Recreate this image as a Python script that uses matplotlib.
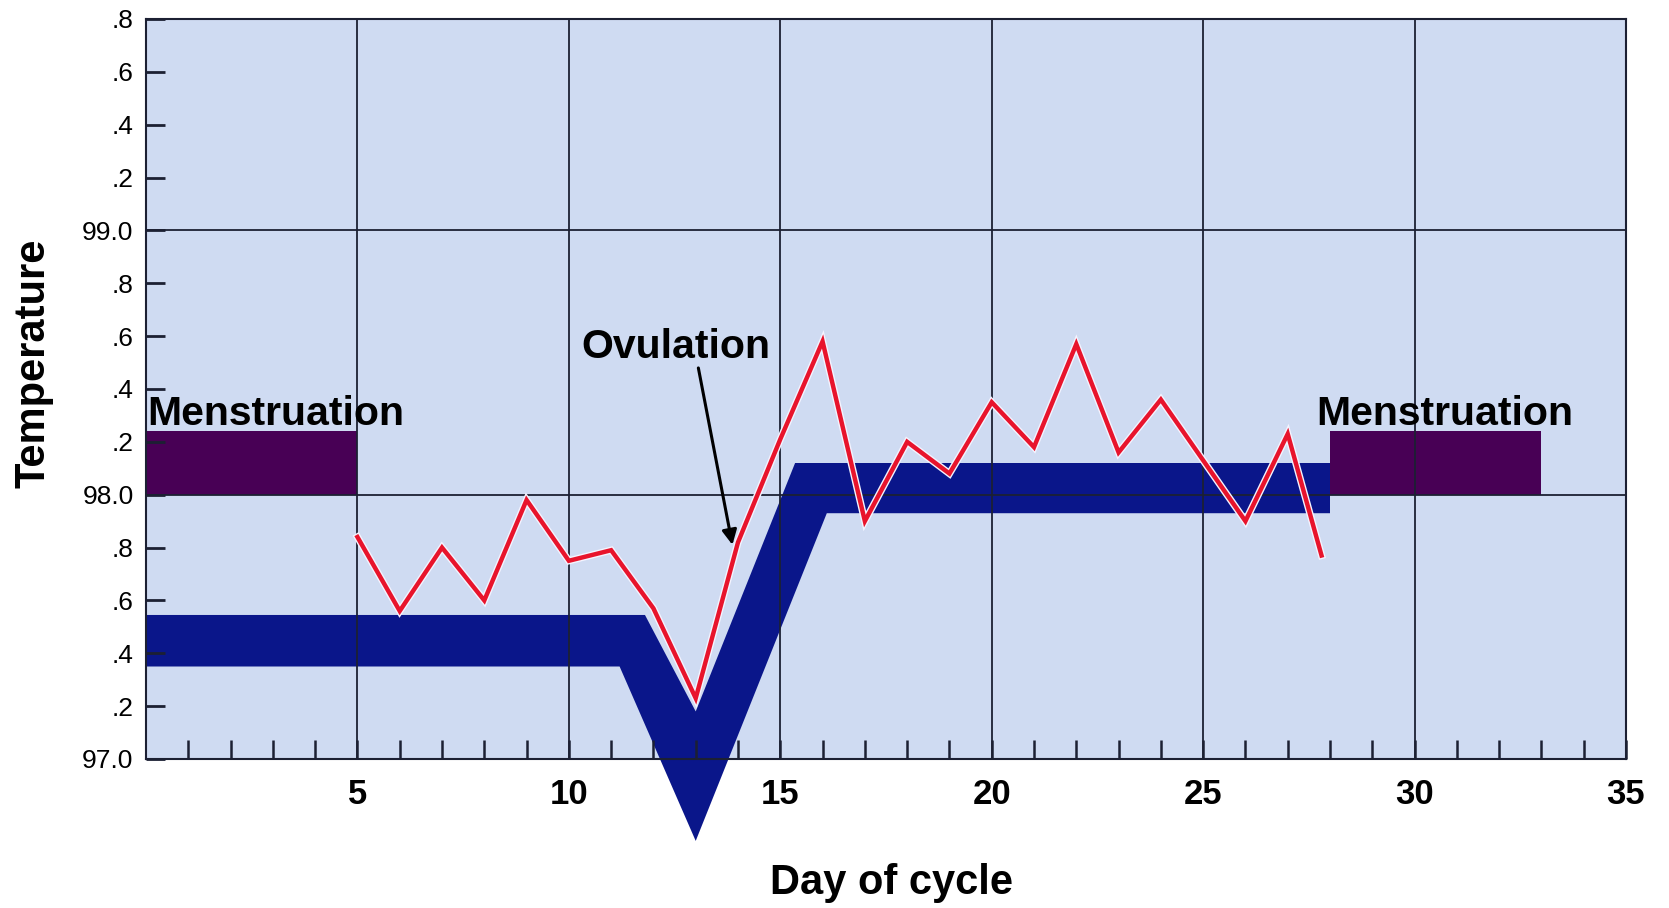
import matplotlib
matplotlib.use("Agg")
import matplotlib.pyplot as plt
import matplotlib.patheffects as pe

plt.rcParams['font.family'] = ['Liberation Sans', 'DejaVu Sans']

# basal body temperature readings (day, deg F)
days = [5, 6, 7, 8, 9, 10, 11, 12, 13, 14, 15, 16, 17, 18, 19, 20,
        21, 22, 23, 24, 25, 26, 27, 27.8]
temps = [97.84, 97.56, 97.80, 97.60, 97.98, 97.75, 97.79, 97.57, 97.23,
         97.82, 98.21, 98.58, 97.90, 98.20, 98.08, 98.35, 98.18, 98.57,
         98.16, 98.36, 98.13, 97.90, 98.23, 97.77]

# typical pattern band (outline of the thick blue trace)
band_x = [0, 11.2, 13.0, 16.1, 28.0, 28.0, 15.35, 13.0, 11.8, 0]
band_y = [97.35, 97.35, 96.69, 97.93, 97.93, 98.12, 98.12, 97.18, 97.545, 97.545]

# menstruation periods: (start day, end day), bar height range
mens_periods = [(0, 5), (28, 33)]
mens_low, mens_high = 98.0, 98.24

ytick_vals = [97.0 + 0.2 * i for i in range(15)]
ytick_text = ['97.0', '.2', '.4', '.6', '.8', '98.0', '.2', '.4', '.6', '.8',
              '99.0', '.2', '.4', '.6', '.8']
xtick_vals = [5, 10, 15, 20, 25, 30, 35]

bg = '#cfdbf2'
navy = '#0a168a'
purple = '#480055'
red = '#e8142c'
grid_c = '#1c2033'

fig = plt.figure(figsize=(16.69, 9.08), dpi=100)
ax = fig.add_axes([146 / 1669, 1 - 759 / 908, 1480 / 1669, 740 / 908])
ax.set_facecolor(bg)
ax.set_xlim(0, 35)
ax.set_ylim(97.0, 99.8)

# menstruation bars
for s, e in mens_periods:
    ax.fill_between([s, e], mens_low, mens_high, color=purple, lw=0, zorder=1)

# blue band, spills below the axis at the dip
ax.fill(band_x, band_y, color=navy, lw=0, zorder=1, clip_on=False)

# grid lines on top of the fills
for x in xtick_vals[:-1]:
    ax.axvline(x, color=grid_c, lw=1.3, zorder=2)
for y in (98.0, 99.0):
    ax.axhline(y, color=grid_c, lw=1.3, zorder=2)

# temperature trace
ax.plot(days, temps, color=red, lw=3.2, zorder=4, solid_joinstyle='miter',
        path_effects=[pe.Stroke(linewidth=5.2, foreground='#f4f4ff'), pe.Normal()])

# ticks
ax.set_xticks(range(1, 35), minor=True)
ax.set_xticks(xtick_vals)
ax.set_xticklabels([str(v) for v in xtick_vals], fontsize=25, fontweight='bold')
ax.set_yticks(ytick_vals)
ax.set_yticklabels(ytick_text, fontsize=19)
ax.tick_params(axis='x', which='both', direction='in', length=14, width=1.8,
               color=grid_c, pad=14)
ax.tick_params(axis='y', direction='in', length=14, width=2, color=grid_c, pad=9)
ax.tick_params(top=False, right=False)
for sp in ax.spines.values():
    sp.set_color(grid_c)
    sp.set_linewidth(1.5)
    sp.set_zorder(3)

# annotations
ax.text(0.02, 98.265, 'Menstruation', fontsize=29.5, fontweight='bold',
        ha='left', va='baseline', zorder=5)
ax.text(27.67, 98.265, 'Menstruation', fontsize=29.5, fontweight='bold',
        ha='left', va='baseline', zorder=5)
ax.annotate('', xy=(13.88, 97.80), xytext=(13.05, 98.49),
            arrowprops=dict(arrowstyle='-|>', color='black', lw=2.2,
                            mutation_scale=22), zorder=5)
ax.text(12.53, 98.56, 'Ovulation', fontsize=29.5, fontweight='bold',
        ha='center', va='center', zorder=5)

fig.text(892 / 1669, 1 - 883 / 908, 'Day of cycle', fontsize=30,
         fontweight='bold', ha='center', va='center')
fig.text(33 / 1669, 1 - 363 / 908, 'Temperature', fontsize=30,
         fontweight='bold', ha='center', va='center', rotation=90)

fig.savefig('out.png', dpi=100)
